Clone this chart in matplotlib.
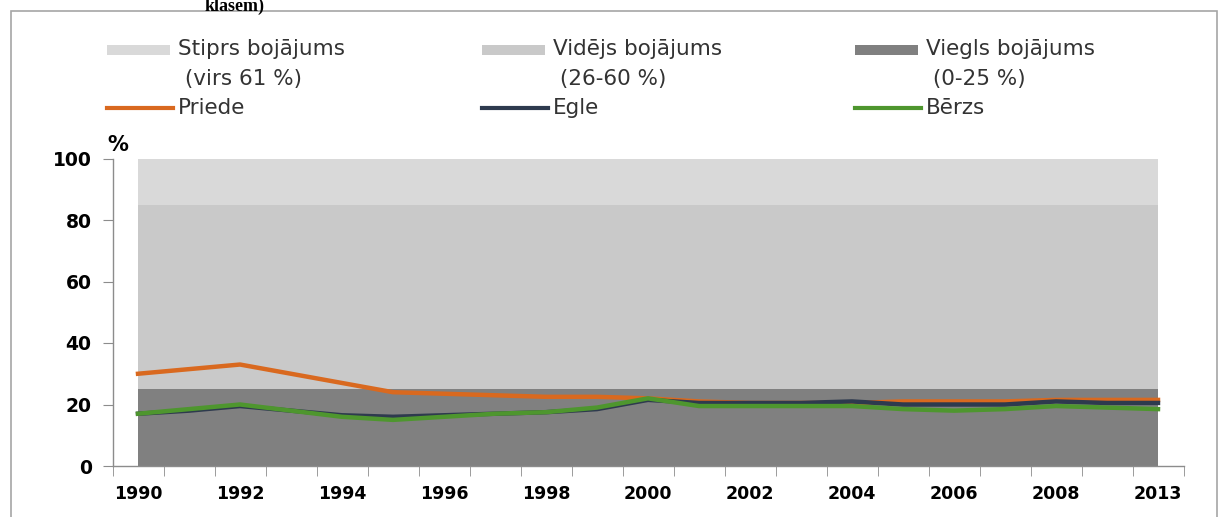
import matplotlib.pyplot as plt
from matplotlib.patches import Rectangle
from matplotlib.lines import Line2D

# kategorijas (gadi) - marķēts katrs otrais
gadi = ["1990", "1991", "1992", "1993", "1994", "1995", "1996", "1997", "1998", "1999",
        "2000", "2001", "2002", "2003", "2004", "2005", "2006", "2007", "2008", "2009", "2013"]

# fona joslas (bojājuma klases)
viegls = [25] * len(gadi)
videjs = [60] * len(gadi)
stiprs = [15] * len(gadi)

priede = [30, 31.5, 33, 30, 27, 24, 23.5, 23, 22.5, 22.5, 22, 21, 20.5, 20.5, 20.5, 21, 21, 21, 21.5, 21.5, 21.5]
egle = [17, 18, 19.5, 18, 16.5, 16, 16.5, 17, 17.5, 18.5, 21.5, 20.5, 20.5, 20.5, 21, 20, 20, 20, 21, 20.5, 20.5]
berzs = [17, 18.5, 20, 18, 16, 15, 16, 17, 17.5, 19, 22, 19.5, 19.5, 19.5, 19.5, 18.5, 18, 18.5, 19.5, 19, 18.5]

joslu_nosaukumi = ["Stiprs bojājums\n (virs 61 %)", "Vidējs bojājums\n (26-60 %)", "Viegls bojājums\n (0-25 %)"]
sugu_nosaukumi = ["Priede", "Egle", "Bērzs"]

c_viegls, c_videjs, c_stiprs = "#808080", "#c9c9c9", "#d9d9d9"
c_priede, c_egle, c_berzs = "#d9691f", "#2e3a4e", "#4e962e"

W, H = 1219, 517
fig = plt.figure(figsize=(W / 100, H / 100), dpi=100)

# ramis
fig.add_artist(Rectangle((11 / W, -0.05), (1217 - 11) / W, 1.05 - 10.5 / H, transform=fig.transFigure,
                         fill=False, edgecolor="#a6a6a6", linewidth=1.2))
fig.text(205 / W, 1 - 11 / H, "klasēm)", fontsize=13, family="Liberation Serif", fontweight="bold",
         ha="left", va="baseline")

ax = fig.add_axes([112.5 / W, (H - 466) / H, (1183.5 - 112.5) / W, (466 - 158.5) / H])
x = list(range(len(gadi)))
ax.stackplot(x, viegls, videjs, stiprs, colors=[c_viegls, c_videjs, c_stiprs], linewidth=0)
ax.plot(x, priede, color=c_priede, lw=3.2, solid_joinstyle="round")
ax.plot(x, egle, color=c_egle, lw=3.2, solid_joinstyle="round")
ax.plot(x, berzs, color=c_berzs, lw=3.2, solid_joinstyle="round")

ax.set_xlim(-0.5, len(gadi) - 0.5)
ax.set_ylim(0, 100)
ax.set_facecolor("none")
for s in ["top", "right"]:
    ax.spines[s].set_visible(False)
for s in ["left", "bottom"]:
    ax.spines[s].set_color("#8c8c8c")
    ax.spines[s].set_linewidth(1)

ax.set_yticks(range(0, 101, 20))
ax.set_yticklabels([str(v) for v in range(0, 101, 20)], fontsize=13.5, fontweight="bold",
                   family="DejaVu Sans")
ax.tick_params(axis="y", length=7, color="#8c8c8c", pad=8)

ax.set_xticks([i for i in x if i % 2 == 0])
ax.set_xticklabels([g for i, g in enumerate(gadi) if i % 2 == 0], fontsize=12.5, fontweight="bold",
                   family="DejaVu Sans")
ax.set_xticks([i - 0.5 for i in range(len(gadi) + 1)], minor=True)
ax.tick_params(axis="x", which="major", length=0, pad=14)
ax.tick_params(axis="x", which="minor", length=7, color="#8c8c8c")

ax.text(-0.6, 101, "%", fontsize=15, fontweight="bold", family="DejaVu Sans",
        ha="left", va="bottom")

# leģenda
kol_x = [107, 482, 855]
for i in range(3):
    x0 = kol_x[i]
    fig.add_artist(Rectangle((x0 / W, 1 - 55 / H), 63 / W, 10 / H, transform=fig.transFigure,
                             facecolor=[c_stiprs, c_videjs, c_viegls][i], edgecolor="none"))
    fig.text((x0 + 71) / W, 1 - 39 / H, joslu_nosaukumi[i], fontsize=15.5, ha="left", va="top",
             color="#333333", linespacing=1.65)
    fig.add_artist(Line2D([x0 / W, (x0 + 66) / W], [1 - 108 / H] * 2, transform=fig.transFigure,
                          color=[c_priede, c_egle, c_berzs][i], lw=3))
    fig.text((x0 + 71) / W, 1 - 108 / H, sugu_nosaukumi[i], fontsize=15.5, ha="left", va="center",
             color="#333333")

fig.savefig("out.png", dpi=100)
